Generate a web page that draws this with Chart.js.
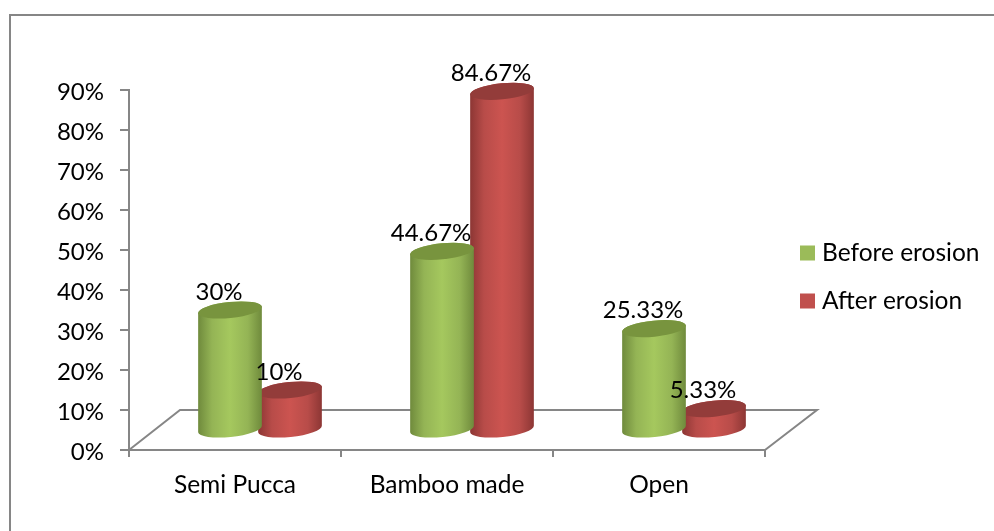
<!DOCTYPE html>
<html>
<head>
<meta charset="utf-8">
<style>
    html, body { margin: 0; padding: 0; background: #fff; }
    canvas { display: block; }
</style>
<script src="https://cdn.jsdelivr.net/npm/chart.js@4"></script>
</head>
<body>
<canvas id="chart-bar" width="994" height="531"></canvas>
<script>
const categories = ["Semi Pucca", "Bamboo made", "Open"];
const beforeErosion = [30, 44.67, 25.33];
const afterErosion = [10, 84.67, 5.33];

// the 3d look: bars sit back from the front edge of the floor
const depthX = 25;
const depthY = -20;
const axisGrey = "#868686";

function shade(ctx, left, width, edge, soft, mid) {
    const g = ctx.createLinearGradient(left, 0, left + width, 0);
    g.addColorStop(0, edge);
    g.addColorStop(0.22, soft);
    g.addColorStop(0.5, mid);
    g.addColorStop(0.78, soft);
    g.addColorStop(1, edge);
    return g;
}

const cylinders = {
    id: "cylinders",
    beforeDraw(chart) {
        const { ctx, chartArea: a } = chart;
        ctx.save();
        // outer frame
        ctx.strokeStyle = axisGrey;
        ctx.lineWidth = 2;
        ctx.beginPath();
        ctx.moveTo(10, 531);
        ctx.lineTo(10, 15);
        ctx.lineTo(994, 15);
        ctx.stroke();
        // floor
        ctx.beginPath();
        ctx.moveTo(a.left, a.bottom);
        ctx.lineTo(a.left + 51, a.bottom - 40);
        ctx.lineTo(a.right + 52, a.bottom - 40);
        ctx.lineTo(a.right, a.bottom);
        ctx.stroke();
        ctx.restore();
    },
    beforeDatasetDraw(chart, args) {
        const { ctx } = chart;
        const cols = args.index === 0
            ? { edge: "#6f8a3c", soft: "#94b455", mid: "#a5c85e", top: "#78943e" }
            : { edge: "#8c3634", soft: "#b84c49", mid: "#cc5450", top: "#933c3a" };
        const rx = 32, ry = 8, tilt = -0.1;
        ctx.save();
        chart.getDatasetMeta(args.index).data.forEach(bar => {
            const cx = bar.x + depthX;
            const top = bar.y + depthY;
            const base = bar.base + depthY;
            ctx.fillStyle = shade(ctx, cx - rx, rx * 2, cols.edge, cols.soft, cols.mid);
            ctx.beginPath();
            ctx.ellipse(cx, base, rx, ry, tilt, Math.PI, 0, true);
            ctx.ellipse(cx, top, rx, ry, tilt, 0, Math.PI, true);
            ctx.closePath();
            ctx.fill();
            ctx.fillStyle = cols.top;
            ctx.beginPath();
            ctx.ellipse(cx, top, rx, ry, tilt, 0, Math.PI * 2);
            ctx.fill();
        });
        ctx.restore();
        return false;
    },
    afterDatasetsDraw(chart) {
        const { ctx } = chart;
        ctx.save();
        ctx.font = "24px Lato";
        ctx.textBaseline = "middle";
        chart.data.datasets.forEach((ds, i) => {
            // value labels
            ctx.fillStyle = "#000";
            ctx.textAlign = "center";
            chart.getDatasetMeta(i).data.forEach((bar, j) => {
                ctx.fillText(ds.data[j] + "%", bar.x + depthX - 11, bar.y + depthY - 18);
            });
            // legend, the built in one can't get the gap after the box this tight
            const rowY = 253 + i * 48;
            ctx.fillStyle = ds.backgroundColor;
            ctx.fillRect(800, rowY - 7.5, 15, 15);
            ctx.fillStyle = "#000";
            ctx.textAlign = "left";
            ctx.font = "24.5px Lato";
            ctx.fillText(ds.label, 822, rowY);
            ctx.font = "24px Lato";
        });
        ctx.restore();
    }
};

new Chart(
    document.getElementById("chart-bar"),
    {
        type: "bar",
        plugins: [cylinders],
        data: {
            labels: categories,
            datasets: [
                { label: "Before erosion", data: beforeErosion, backgroundColor: "#9bbb59", barThickness: 60 },
                { label: "After erosion", data: afterErosion, backgroundColor: "#c0504d", barThickness: 60 }
            ]
        },
        options: {
            responsive: false,
            animation: false,
            layout: { padding: { top: 90, right: 229 } },
            plugins: {
                tooltip: { enabled: false },
                legend: { display: false }
            },
            scales: {
                x: {
                    afterFit(s) { s.height = 81; },
                    border: { color: axisGrey, width: 2 },
                    grid: { drawOnChartArea: false, color: axisGrey, lineWidth: 2, tickLength: 7 },
                    ticks: { color: "#000", padding: 13, maxRotation: 0, font: { family: "Lato", size: 24.5 } }
                },
                y: {
                    min: 0,
                    max: 90,
                    afterFit(s) { s.width = 129; },
                    border: { color: axisGrey, width: 2 },
                    grid: { drawOnChartArea: false, color: axisGrey, lineWidth: 2, tickLength: 9 },
                    ticks: {
                        stepSize: 10,
                        color: "#000",
                        padding: 16,
                        labelOffset: 2,
                        font: { family: "Lato", size: 24 },
                        callback: v => v + "%"
                    }
                }
            }
        }
    }
);
</script>
</body>
</html>
